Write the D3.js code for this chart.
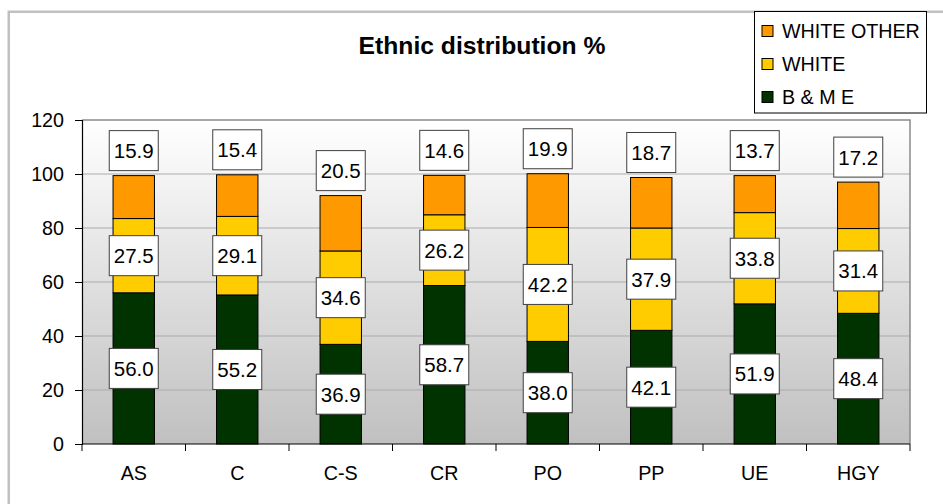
<!DOCTYPE html>
<html>
<head>
<meta charset="utf-8">
<script src="https://cdn.jsdelivr.net/npm/d3@7"></script>
<style>
  html, body { margin: 0; padding: 0; background: #fff; }
  svg { display: block; font-family: "Liberation Sans", Arial, sans-serif; }
</style>
</head>
<body>
<svg id="chart" width="943" height="504"></svg>
<script>
// Wards and ethnic group shares (%)
const categories = ["AS", "C", "C-S", "CR", "PO", "PP", "UE", "HGY"];
const bme        = [56.0, 55.2, 36.9, 58.7, 38.0, 42.1, 51.9, 48.4];
const white      = [27.5, 29.1, 34.6, 26.2, 42.2, 37.9, 33.8, 31.4];
const whiteOther = [15.9, 15.4, 20.5, 14.6, 19.9, 18.7, 13.7, 17.2];
const seriesNames = ["B & M E", "WHITE", "WHITE OTHER"];
const yTicks = [0, 20, 40, 60, 80, 100, 120];
const titleText = "Ethnic distribution %";

const colors = ["#003300", "#FFCC00", "#FF9900"];

const svg = d3.select("#chart");
const plot = { left: 82, right: 910, top: 120, bottom: 444 };

// Outer chart frame
svg.append("rect")
  .attr("x", 8.75).attr("y", 11.75)
  .attr("width", 1100).attr("height", 700)
  .attr("fill", "#fff").attr("stroke", "#c0c0c0").attr("stroke-width", 2.5);

// Plot background gradient
const defs = svg.append("defs");
const grad = defs.append("linearGradient").attr("id", "bg")
  .attr("x1", 0).attr("y1", 0).attr("x2", 0).attr("y2", 1);
grad.append("stop").attr("offset", "0%").attr("stop-color", "#ffffff");
grad.append("stop").attr("offset", "100%").attr("stop-color", "#c0c0c0");

svg.append("rect")
  .attr("x", plot.left).attr("y", plot.top)
  .attr("width", plot.right - plot.left).attr("height", plot.bottom - plot.top)
  .attr("fill", "url(#bg)");

const x = d3.scaleBand()
  .domain(categories)
  .range([plot.left, plot.right])
  .paddingInner(0.6)
  .paddingOuter(0.3);

const y = d3.scaleLinear().domain([0, 120]).range([plot.bottom, plot.top]);

// Gridlines
svg.append("g").selectAll("line")
  .data(yTicks.filter(t => t > 0 && t < 120))
  .join("line")
  .attr("x1", plot.left).attr("x2", plot.right)
  .attr("y1", d => y(d)).attr("y2", d => y(d))
  .attr("stroke", "#ababab").attr("stroke-width", 1);

// Plot frame top and right edges
svg.append("path")
  .attr("d", `M${plot.left},${plot.top}H${plot.right}V${plot.bottom}`)
  .attr("fill", "none").attr("stroke", "#8a8a8a").attr("stroke-width", 1.5);

// Stack the series
const rows = categories.map((c, i) => ({ cat: c, s0: bme[i], s1: white[i], s2: whiteOther[i] }));
const stack = d3.stack().keys(["s0", "s1", "s2"]);
const layers = stack(rows);

const barG = svg.append("g");
layers.forEach((layer, li) => {
  barG.selectAll(null)
    .data(layer)
    .join("rect")
    .attr("x", d => x(d.data.cat))
    .attr("width", x.bandwidth())
    .attr("y", d => y(d[1]))
    .attr("height", d => y(d[0]) - y(d[1]))
    .attr("fill", colors[li])
    .attr("stroke", "#000").attr("stroke-width", 1);
});

// Axes
const yAxis = d3.axisLeft(y).tickValues(yTicks).tickSize(7).tickPadding(11);
const gy = svg.append("g").attr("transform", `translate(${plot.left},0)`).call(yAxis);
gy.select(".domain").attr("stroke", "#000").attr("stroke-width", 1.2);
gy.selectAll(".tick line").attr("stroke", "#000");
gy.selectAll("text").attr("font-size", 19.7).attr("fill", "#000")
  .attr("font-family", "Liberation Sans, Arial, sans-serif");

const xAxis = d3.axisBottom(x).tickSize(0).tickPadding(0);
const gx = svg.append("g").attr("transform", `translate(0,${plot.bottom})`).call(xAxis);
gx.select(".domain").remove();
gx.selectAll("text").attr("font-size", 19.7).attr("fill", "#000")
  .attr("dy", 0).attr("y", 36)
  .attr("font-family", "Liberation Sans, Arial, sans-serif");

// x axis baseline and boundary ticks
svg.append("line")
  .attr("x1", plot.left).attr("x2", plot.right)
  .attr("y1", plot.bottom).attr("y2", plot.bottom)
  .attr("stroke", "#000").attr("stroke-width", 1.2);
const step = x.step();
const boundaries = d3.range(categories.length + 1).map(i => plot.left + i * step);
svg.append("g").selectAll("line").data(boundaries).join("line")
  .attr("x1", d => d).attr("x2", d => d)
  .attr("y1", plot.bottom).attr("y2", plot.bottom + 7)
  .attr("stroke", "#000").attr("stroke-width", 1);

// Value labels in boxes
const boxW = 49, boxH = 40;
const labelG = svg.append("g");
layers.forEach((layer, li) => {
  layer.forEach(d => {
    const cx = x(d.data.cat) + x.bandwidth() / 2;
    const val = d[1] - d[0];
    let cy;
    if (li < 2) {
      cy = y((d[0] + d[1]) / 2);
    } else {
      cy = y(d[1]) - 5 - boxH / 2;
    }
    labelG.append("rect")
      .attr("x", cx - boxW / 2).attr("y", cy - boxH / 2)
      .attr("width", boxW).attr("height", boxH)
      .attr("fill", "#fff").attr("stroke", "#404040").attr("stroke-width", 1);
    labelG.append("text")
      .attr("x", cx).attr("y", cy + 7.5)
      .attr("text-anchor", "middle")
      .attr("font-size", 20.5)
      .attr("fill", "#000")
      .text(val.toFixed(1));
  });
});

// Title
svg.append("text")
  .attr("x", 482).attr("y", 54)
  .attr("text-anchor", "middle")
  .attr("font-size", 24.7).attr("font-weight", "bold")
  .attr("fill", "#000")
  .text(titleText);

// Legend
const lg = svg.append("g");
lg.append("rect")
  .attr("x", 754.5).attr("y", 11.5).attr("width", 172).attr("height", 101.5)
  .attr("fill", "#fff").attr("stroke", "#000").attr("stroke-width", 1);
const legendOrder = [2, 1, 0];
legendOrder.forEach((si, i) => {
  const cy = 31 + i * 33;
  lg.append("rect")
    .attr("x", 762).attr("y", cy - 5.5).attr("width", 11).attr("height", 11)
    .attr("fill", colors[si]).attr("stroke", "#000").attr("stroke-width", 1);
  lg.append("text")
    .attr("x", 782).attr("y", cy + 6.5)
    .attr("font-size", 19.7).attr("fill", "#000")
    .text(seriesNames[si]);
});
</script>
</body>
</html>
